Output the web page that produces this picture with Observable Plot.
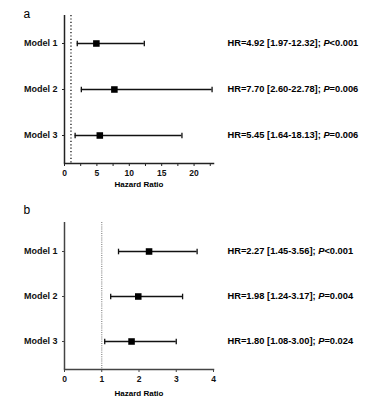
<!DOCTYPE html>
<html><head><meta charset="utf-8">
<script src="https://cdn.jsdelivr.net/npm/d3@7"></script>
<script src="https://cdn.jsdelivr.net/npm/@observablehq/plot@0.6"></script>
<style>body{margin:0;background:#fff;} #chart svg{display:block}</style>
</head><body><div id="chart"></div>
<script>
const models = ["Model 1", "Model 2", "Model 3"];
// Panel a
const hrA = [4.92, 7.70, 5.45];
const loA = [1.97, 2.60, 1.64];
const hiA = [12.32, 22.78, 18.13];
const pA = ["<0.001", "=0.006", "=0.006"];
const ticksA = [0, 2.5, 5, 7.5, 10, 12.5, 15, 17.5, 20, 22.5];
const labelsA = [0, 5, 10, 15, 20];
// Panel b
const hrB = [2.27, 1.98, 1.80];
const loB = [1.45, 1.24, 1.08];
const hiB = [3.56, 3.17, 3.00];
const pB = ["<0.001", "=0.004", "=0.024"];
const ticksB = [0, 1, 2, 3, 4];
const labelsB = [0, 1, 2, 3, 4];

const FONT = "'Liberation Sans', Arial, Helvetica, sans-serif";

// vertical-bar symbol for whisker caps
const capSymbol = {draw(ctx) { ctx.moveTo(0, -2.8); ctx.lineTo(0, 2.8); }};

function rows(hr, lo, hi, p) {
  return models.map((m, i) => ({
    model: m, hr: hr[i], lo: lo[i], hi: hi[i],
    text: `HR=${hr[i].toFixed(2)} [${lo[i].toFixed(2)}-${hi[i].toFixed(2)}]; P${p[i]}`
  }));
}

function panel({letter, data, domain, ticks, labels, height, marginTop, marginBottom, refColor, refDash, letterDy, labelDy, axisColor, tickPadding}) {
  const chart = Plot.plot({
    width: 365, height, marginLeft: 64, marginRight: 152, marginTop, marginBottom,
    style: {fontFamily: FONT, fontSize: "8px", fontWeight: "bold", color: "#111", background: "#fff", overflow: "visible"},
    x: {domain, label: null},
    y: {type: "point", domain: models, padding: 0.6, label: null},
    marks: [
      Plot.ruleX([1], {stroke: refColor, strokeDasharray: refDash, strokeWidth: 1.2}),
      Plot.ruleX([domain[0]], {stroke: axisColor, strokeWidth: 1.5}),
      Plot.frame({anchor: "bottom", stroke: axisColor, strokeWidth: 1.5}),
      Plot.axisX({ticks, tickSize: 3, tickPadding, tickFormat: d => labels.includes(d) ? String(d) : "", stroke: axisColor, strokeWidth: 1, fontSize: 8.5, fontWeight: "bold"}),
      Plot.axisY({tickSize: 2, tickPadding: 5, fontSize: 9, fontWeight: "bold", stroke: axisColor}),
      Plot.ruleY(data, {y: "model", x1: "lo", x2: "hi", stroke: "#111", strokeWidth: 1.3}),
      Plot.dot(data, {x: "lo", y: "model", symbol: capSymbol, stroke: "#111", strokeWidth: 1.3, fill: "none"}),
      Plot.dot(data, {x: "hi", y: "model", symbol: capSymbol, stroke: "#111", strokeWidth: 1.3, fill: "none"}),
      Plot.dot(data, {x: "hr", y: "model", symbol: "square", r: 3.7, fill: "#000", stroke: null}),
      Plot.text(data, {y: "model", text: "text", frameAnchor: "right", dx: 14, textAnchor: "start", fontSize: 9.3, fontWeight: "bold", fill: "#000"}),
      Plot.text([letter], {frameAnchor: "top-left", dx: -41, dy: letterDy, textAnchor: "start", lineAnchor: "bottom", fontSize: 12, fontWeight: "normal", fill: "#000"}),
      Plot.text(["Hazard Ratio"], {frameAnchor: "bottom", dy: labelDy, fontSize: 8, fontWeight: "bold", fill: "#000"})
    ]
  });
  // italicize the "P" in annotations
  d3.select(chart).selectAll("text").each(function() {
    const t = this.textContent;
    const idx = t.indexOf("; P");
    if (t.startsWith("HR=") && idx >= 0) {
      const sel = d3.select(this);
      sel.text(null);
      sel.append("tspan").text(t.slice(0, idx + 2));
      sel.append("tspan").attr("font-style", "italic").text("P");
      sel.append("tspan").text(t.slice(idx + 3));
    }
  });
  return chart;
}

const root = document.getElementById("chart");
root.append(panel({
  letter: "a", data: rows(hrA, loA, hiA, pA), domain: [0, 23], ticks: ticksA, labels: labelsA,
  height: 200, marginTop: 15, marginBottom: 37, refColor: "#000", refDash: "1.2,2.2",
  letterDy: 2.5, labelDy: 23, axisColor: "#222", tickPadding: 3.5
}));
root.append(panel({
  letter: "b", data: rows(hrB, loB, hiB, pB), domain: [0, 4], ticks: ticksB, labels: labelsB,
  height: 213, marginTop: 22, marginBottom: 44, refColor: "#888", refDash: "1,1.2",
  letterDy: -8.7, labelDy: 26, axisColor: "#444", tickPadding: 3
}));
</script>
</body></html>
